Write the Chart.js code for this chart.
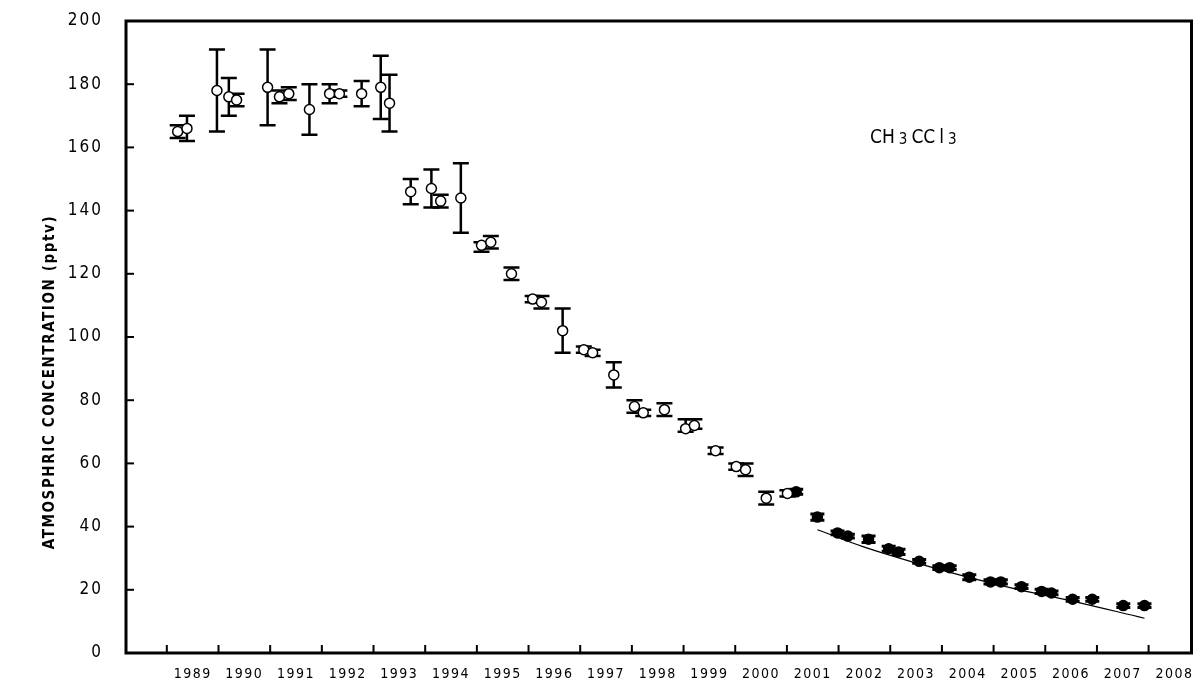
<!DOCTYPE html>
<html>
<head>
<meta charset="utf-8">
<script src="https://cdn.jsdelivr.net/npm/chart.js"></script>
<style>
  html, body { margin: 0; padding: 0; background: #fff; }
  #wrap { width: 1198px; height: 685px; }
</style>
</head>
<body>
<div id="wrap"><canvas id="c" width="1198" height="685"></canvas></div>
<script>
// ---------- data ----------
const yearLabels = ['1989','1990','1991','1992','1993','1994','1995','1996','1997','1998',
                    '1999','2000','2001','2002','2003','2004','2005','2006','2007','2008'];
const yTicks = [0, 20, 40, 60, 80, 100, 120, 140, 160, 180, 200];

// open circles (flask samples), decimal year
const openX  = [1989.21,1989.39,1989.97,1990.20,1990.35,1990.95,1991.18,1991.36,1991.76,1992.15,
                1992.34,1992.77,1993.14,1993.31,1993.72,1994.12,1994.30,1994.69,1995.09,1995.27,
                1995.67,1996.08,1996.25,1996.66,1997.07,1997.24,1997.65,1998.05,1998.22,1998.63,
                1999.04,1999.21,1999.62,2000.02,2000.20,2000.60,2001.01];
const openY  = [165,166,178,176,175,179,176,177,172,177,
                177,177,179,174,146,147,143,144,129,130,
                120,112,111,102,96,95,88,78,76,77,
                71,72,64,59,58,49,50.5];
const openHi = [167,170,191,182,177,191,178,179,180,180,
                178,181,189,183,150,153,145,155,130,132,
                122,113,113,109,97,96,92,80,77,79,
                74,74,65,60,60,51,51.5];
const openLo = [163,162,165,170,173,167,174,175,164,174,
                176,173,169,165,142,141,141,133,127,128,
                118,111,109,95,95,94,84,76,75,75,
                70,71,63,58,56,47,49.5];

// filled circles (in-situ), decimal year
const fillX  = [2001.18,2001.59,2001.98,2002.18,2002.58,2002.97,2003.16,2003.56,2003.95,2004.15,
                2004.53,2004.94,2005.14,2005.54,2005.93,2006.12,2006.53,2006.91,2007.51,2007.92];
const fillY  = [51,43,38,37,36,33,32,29,27,27,24,22.5,22.5,21,19.5,19,17,17,15,15];
const fillHi = [51.8,44,38.6,37.6,37,33.8,32.8,29.6,27.6,27.6,24.8,23.2,23.2,21.6,20.2,19.6,17.6,17.6,15.6,15.6];
const fillLo = [50.2,42,37.4,36.4,35,32.2,31.2,28.4,26.4,26.4,23.2,21.8,21.8,20.4,18.8,18.4,16.4,16.4,14.4,14.4];

// fitted decay curve
const fitX = [2001.59, 2002.5, 2003.5, 2004.5, 2005.5, 2006.5, 2007.92];
const fitY = [39, 33.5, 28.5, 24, 20, 16.5, 11];

const FONT = '"Noto Sans CJK JP", "DejaVu Sans", sans-serif';
const COND = '"DejaVu Sans Condensed", "Liberation Sans Narrow", ' + FONT;

const toPts = (xs, ys) => xs.map((x, i) => ({ x, y: ys[i] }));

// ---------- axes, frame, ticks, error bars, label ----------
const decorPlugin = {
  id: 'decor',
  beforeDatasetsDraw(chart) {
    const { ctx, chartArea: a, scales: { x, y } } = chart;
    ctx.save();
    ctx.strokeStyle = '#000';
    ctx.fillStyle = '#000';
    // frame
    ctx.lineWidth = 3;
    ctx.strokeRect(a.left, a.top, a.right - a.left, a.bottom - a.top);
    ctx.lineWidth = 2;
    // y ticks & labels
    ctx.font = '17px ' + COND;
    ctx.letterSpacing = '2px';
    ctx.textAlign = 'right';
    ctx.textBaseline = 'middle';
    yTicks.forEach(v => {
      const py = y.getPixelForValue(v);
      ctx.beginPath(); ctx.moveTo(a.left, py); ctx.lineTo(a.left + 8, py); ctx.stroke();
      ctx.fillText(String(v), a.left - 23, py);
    });
    // x ticks at year boundaries, labels centred in each year
    ctx.textAlign = 'center';
    ctx.textBaseline = 'top';
    ctx.font = '14px ' + COND;
    ctx.letterSpacing = '1.5px';
    yearLabels.forEach(lbl => {
      const yr = +lbl;
      const px = x.getPixelForValue(yr);
      ctx.beginPath(); ctx.moveTo(px, a.bottom); ctx.lineTo(px, a.bottom - 8); ctx.stroke();
      ctx.fillText(lbl, x.getPixelForValue(yr + 0.5), a.bottom + 14);
    });
    // y axis title
    ctx.save();
    ctx.translate(50, 382);
    ctx.rotate(-Math.PI / 2);
    ctx.font = 'bold 15px ' + COND;
    ctx.letterSpacing = '1.6px';
    ctx.textAlign = 'center';
    ctx.textBaseline = 'middle';
    ctx.fillText('ATMOSPHRIC CONCENTRATION (pptv)', 0, 0);
    ctx.restore();
    ctx.letterSpacing = '0px';
    // error bars
    const bars = (xs, hi, lo, cap, w) => {
      ctx.lineWidth = w;
      xs.forEach((xv, i) => {
        const px = x.getPixelForValue(xv);
        const ph = y.getPixelForValue(hi[i]), pl = y.getPixelForValue(lo[i]);
        ctx.beginPath();
        ctx.moveTo(px, ph); ctx.lineTo(px, pl);
        ctx.moveTo(px - cap, ph); ctx.lineTo(px + cap, ph);
        ctx.moveTo(px - cap, pl); ctx.lineTo(px + cap, pl);
        ctx.stroke();
      });
    };
    bars(openX, openHi, openLo, 8, 2.5);
    bars(fillX, fillHi, fillLo, 7, 3);
    // species label CH3CCl3
    let tx = 870;
    const ty = 138;
    ctx.textAlign = 'left';
    ctx.textBaseline = 'middle';
    [['CH', 19], ['3', 15], ['CC', 19], ['l', 19], ['3', 15]].forEach(([t, s]) => {
      ctx.font = s + 'px ' + COND;
      ctx.fillText(t, tx, ty + (s < 19 ? 2 : 0));
      tx += ctx.measureText(t).width + 4;
    });
    ctx.restore();
  }
};

new Chart(document.getElementById('c'), {
  type: 'scatter',
  data: {
    datasets: [
      {
        type: 'line',
        data: toPts(fitX, fitY),
        borderColor: '#000',
        borderWidth: 1.2,
        pointRadius: 0,
        tension: 0.4,
        fill: false
      },
      {
        data: toPts(openX, openY),
        backgroundColor: '#fff',
        borderColor: '#000',
        borderWidth: 1.5,
        pointRadius: 5
      },
      {
        data: toPts(fillX, fillY),
        backgroundColor: '#000',
        borderColor: '#000',
        borderWidth: 1.5,
        pointRadius: 5
      }
    ]
  },
  options: {
    responsive: false,
    animation: false,
    events: [],
    layout: { padding: { left: 126, top: 21, right: 6, bottom: 32 } },
    plugins: { legend: { display: false }, tooltip: { enabled: false } },
    scales: {
      x: { type: 'linear', min: 1988.21, max: 2008.83, display: false },
      y: { type: 'linear', min: 0, max: 200, display: false }
    }
  },
  plugins: [decorPlugin]
});
</script>
</body>
</html>
